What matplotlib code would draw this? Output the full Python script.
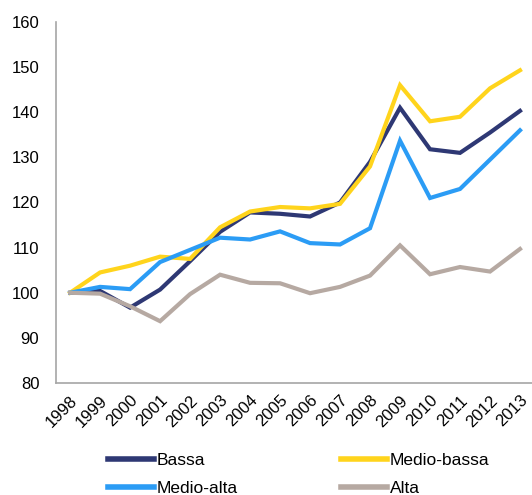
import matplotlib
matplotlib.use("Agg")
import matplotlib.pyplot as plt

years = ["1998", "1999", "2000", "2001", "2002", "2003", "2004", "2005",
         "2006", "2007", "2008", "2009", "2010", "2011", "2012", "2013"]
bassa = [100, 100.4, 96.7, 100.7, 107, 113.5, 117.8, 117.5, 116.9, 120, 129, 141, 131.8, 131, 135.5, 140.3]
medio_bassa = [100, 104.5, 106, 108, 107.5, 114.5, 118, 119, 118.7, 119.7, 128, 146, 138, 139, 145.3, 149.3]
medio_alta = [100, 101.3, 100.8, 106.8, 109.5, 112.2, 111.8, 113.6, 111, 110.7, 114.3, 133.7, 121, 123, 129.5, 136]
alta = [100, 99.8, 97, 93.7, 99.7, 104, 102.2, 102.1, 99.9, 101.3, 103.8, 110.5, 104.1, 105.7, 104.7, 109.7]

series = [("Bassa", bassa, "#2E3874"),
          ("Medio-bassa", medio_bassa, "#FFD41C"),
          ("Medio-alta", medio_alta, "#2B9CF5"),
          ("Alta", alta, "#B6A9A2")]

plt.rcParams['font.family'] = ['Liberation Sans', 'DejaVu Sans']
fig = plt.figure(figsize=(5.32, 4.95), dpi=100)
ax = fig.add_axes([56/532, 1 - 383/495, 1 - 56/532, (383 - 22)/495])

x = list(range(len(years)))
handles = {}
for name, vals, col in series:
    h, = ax.plot(x, vals, color=col, lw=3.0, label=name, solid_joinstyle='miter')
    handles[name] = h

ax.set_ylim(80, 160)
ax.set_yticks(range(80, 161, 10))
ax.set_xlim(-0.47, 15.4)
ax.set_xticks(x)
ax.set_xticklabels(years, rotation=45, ha='right', rotation_mode='anchor')
ax.tick_params(axis='both', length=0, labelsize=12, colors='#000000')
ax.tick_params(axis='x', pad=7)
ax.tick_params(axis='y', pad=12)
for s in ['top', 'right']:
    ax.spines[s].set_visible(False)
for s in ['left', 'bottom']:
    ax.spines[s].set_color('#A6A6A6')
    ax.spines[s].set_linewidth(1.2)

order = ["Bassa", "Medio-alta", "Medio-bassa", "Alta"]
leg = fig.legend([handles[n] for n in order], order, ncol=2, frameon=False,
                 loc='upper left', bbox_to_anchor=(101/532, 1 - 446/495),
                 fontsize=12.5, handlelength=2.65, handletextpad=0.15,
                 columnspacing=5.95, labelspacing=0.72, borderaxespad=0)
for l in leg.get_lines():
    l.set_linewidth(4)

fig.savefig("out.png", dpi=100)
